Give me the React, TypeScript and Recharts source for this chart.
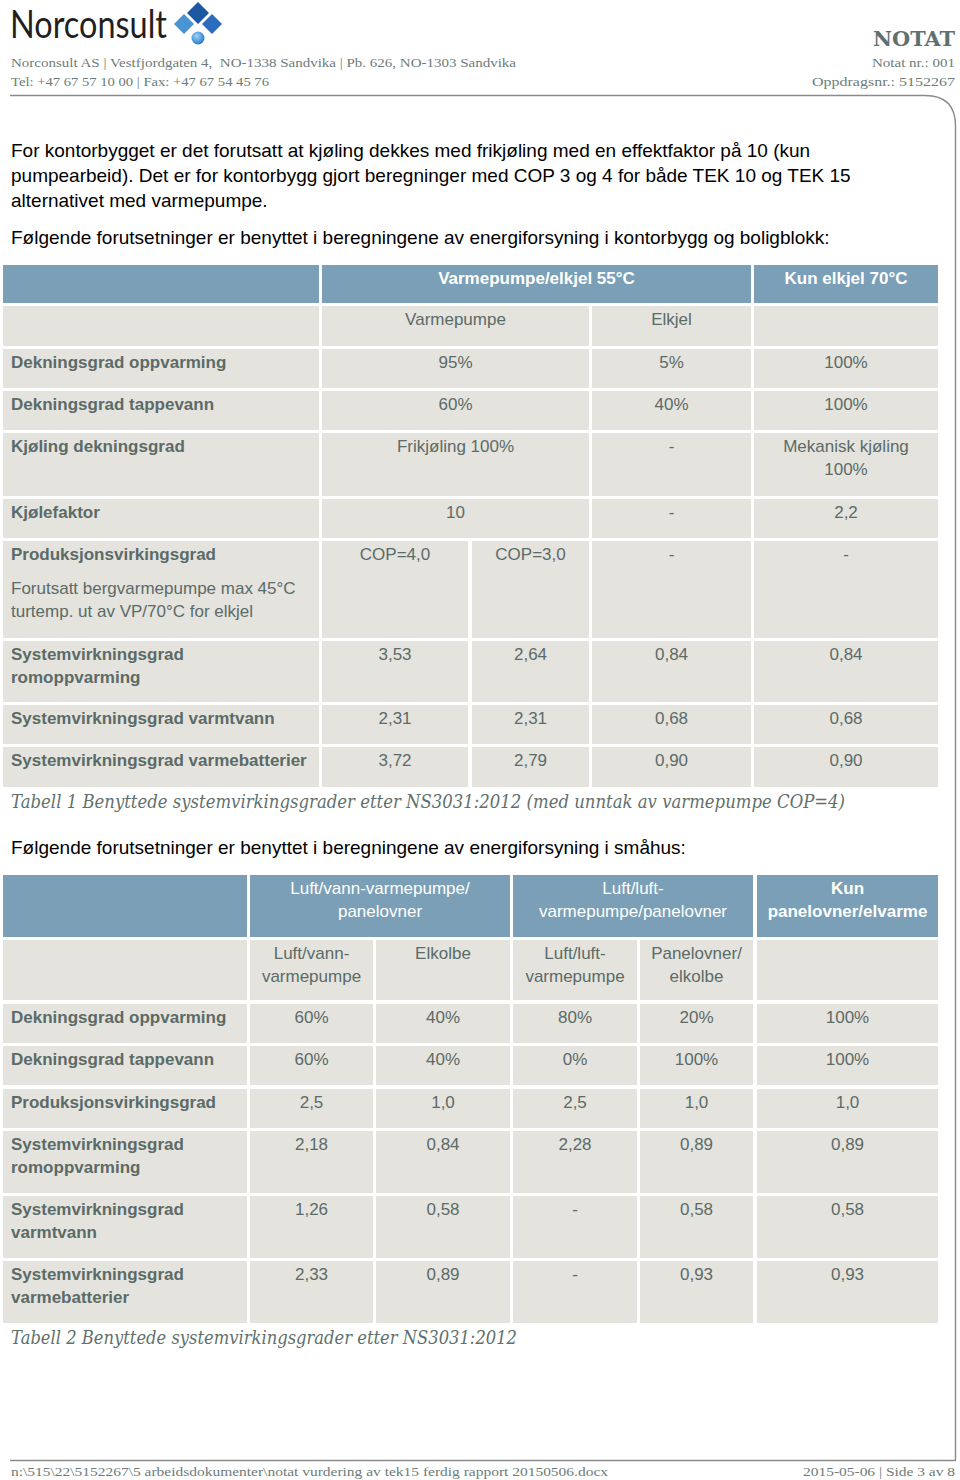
import React from "react";
import { Surface, Polygon, Dot } from "recharts";

// page text
const introLines = [
  "For kontorbygget er det forutsatt at kjøling dekkes med frikjøling med en effektfaktor på 10 (kun",
  "pumpearbeid). Det er for kontorbygg gjort beregninger med COP 3 og 4 for både TEK 10 og TEK 15",
  "alternativet med varmepumpe.",
];
const lead1 = "Følgende forutsetninger er benyttet i beregningene av energiforsyning i kontorbygg og boligblokk:";
const lead2 = "Følgende forutsetninger er benyttet i beregningene av energiforsyning i småhus:";
const caption1 = "Tabell 1 Benyttede systemvirkingsgrader etter NS3031:2012 (med unntak av varmepumpe COP=4)";
const caption2 = "Tabell 2 Benyttede systemvirkingsgrader etter NS3031:2012";

const headLeft = [
  "Norconsult AS | Vestfjordgaten 4,  NO-1338 Sandvika | Pb. 626, NO-1303 Sandvika",
  "Tel: +47 67 57 10 00 | Fax: +47 67 54 45 76",
];
const headRight = ["Notat nr.: 001", "Oppdragsnr.: 5152267"];
const footLeft = "n:\\515\\22\\5152267\\5 arbeidsdokumenter\\notat vurdering av tek15 ferdig rapport 20150506.docx";
const footRight = "2015-05-06 | Side 3 av 8";

// table 1 (span = number of columns, lines split by "\n")
type Cell = { t: string; span?: number; bold?: boolean; note?: string; left?: boolean };

const t1Header: Cell[] = [
  { t: "" },
  { t: "Varmepumpe/elkjel 55°C", span: 3, bold: true },
  { t: "Kun elkjel 70°C", bold: true },
];
const t1Sub: Cell[] = [{ t: "" }, { t: "Varmepumpe", span: 2 }, { t: "Elkjel" }, { t: "" }];
const t1Labels = [
  "Dekningsgrad oppvarming",
  "Dekningsgrad tappevann",
  "Kjøling dekningsgrad",
  "Kjølefaktor",
  "Produksjonsvirkingsgrad",
  "Systemvirkningsgrad\nromoppvarming",
  "Systemvirkningsgrad varmtvann",
  "Systemvirkningsgrad varmebatterier",
];
const t1Note = "Forutsatt bergvarmepumpe max 45°C\nturtemp. ut av VP/70°C for elkjel";
const t1Values: string[][] = [
  ["95%", "5%", "100%"],
  ["60%", "40%", "100%"],
  ["Frikjøling 100%", "-", "Mekanisk kjøling\n100%"],
  ["10", "-", "2,2"],
  ["COP=4,0", "COP=3,0", "-", "-"],
  ["3,53", "2,64", "0,84", "0,84"],
  ["2,31", "2,31", "0,68", "0,68"],
  ["3,72", "2,79", "0,90", "0,90"],
];

// table 2
const t2Header: Cell[] = [
  { t: "" },
  { t: "Luft/vann-varmepumpe/\npanelovner", span: 2 },
  { t: "Luft/luft-\nvarmepumpe/panelovner", span: 2 },
  { t: "Kun\npanelovner/elvarme", bold: true },
];
const t2Sub: Cell[] = [
  { t: "" },
  { t: "Luft/vann-\nvarmepumpe" },
  { t: "Elkolbe" },
  { t: "Luft/luft-\nvarmepumpe" },
  { t: "Panelovner/\nelkolbe" },
  { t: "" },
];
const t2Labels = [
  "Dekningsgrad oppvarming",
  "Dekningsgrad tappevann",
  "Produksjonsvirkingsgrad",
  "Systemvirkningsgrad\nromoppvarming",
  "Systemvirkningsgrad\nvarmtvann",
  "Systemvirkningsgrad\nvarmebatterier",
];
const t2Values: string[][] = [
  ["60%", "40%", "80%", "20%", "100%"],
  ["60%", "40%", "0%", "100%", "100%"],
  ["2,5", "1,0", "2,5", "1,0", "1,0"],
  ["2,18", "0,84", "2,28", "0,89", "0,89"],
  ["1,26", "0,58", "-", "0,58", "0,58"],
  ["2,33", "0,89", "-", "0,93", "0,93"],
];

// layout
const BLUE = "#7a9fb6";
const GREY = "#e5e3dd";
const INK = "#5b6b68";
const SLAB = "'DejaVu Serif', serif";
const SERIF = "'Liberation Serif', serif";
const SANS = "'Liberation Sans', Arial, sans-serif";

const t1ColStart = [3, 322, 472, 592, 754];
const t1ColEnd = [319, 468, 589, 751, 938];
const t1RowTop = [265, 306, 349, 391, 433, 499, 541, 641, 705, 747];
const t1RowBot = [303, 346, 388, 430, 496, 538, 638, 702, 744, 787];

const t2ColStart = [3, 250, 376, 513, 640, 757];
const t2ColEnd = [247, 373, 510, 637, 753, 938];
const t2RowTop = [875, 940, 1004, 1046, 1089, 1131, 1196, 1261];
const t2RowBot = [937, 1000, 1043, 1085, 1128, 1193, 1258, 1323];

function Lines({ text }: { text: string }) {
  return (
    <>
      {text.split("\n").map((l, i) => (
        <div key={i}>{l || "\u00a0"}</div>
      ))}
    </>
  );
}

function TableRow({
  cells,
  starts,
  ends,
  top,
  bottom,
  header,
}: {
  cells: Cell[];
  starts: number[];
  ends: number[];
  top: number;
  bottom: number;
  header?: boolean;
}) {
  let col = 0;
  return (
    <>
      {cells.map((c, i) => {
        const span = c.span || 1;
        const x0 = starts[col];
        const x1 = ends[col + span - 1];
        col += span;
        return (
          <div
            key={i}
            style={{
              position: "absolute",
              left: x0,
              top,
              width: x1 - x0,
              height: bottom - top,
              background: header ? BLUE : GREY,
              color: header ? "#ffffff" : INK,
              fontFamily: SANS,
              fontSize: 17,
              lineHeight: "23px",
              fontWeight: c.bold ? 700 : 400,
              textAlign: c.left ? "left" : "center",
              paddingTop: 2,
              paddingLeft: c.left ? 8 : 0,
              boxSizing: "border-box",
              whiteSpace: "nowrap",
            }}
          >
            <Lines text={c.t} />
            {c.note && (
              <div style={{ fontWeight: 400, marginTop: 11 }}>
                <Lines text={c.note} />
              </div>
            )}
          </div>
        );
      })}
    </>
  );
}

function bodyRows(labels: string[], values: string[][], nCols: number, note?: { row: number; text: string }) {
  return labels.map((label, r) => {
    const vals = values[r];
    const first = nCols - vals.length + 1; // span of first value cell
    const cells: Cell[] = [
      { t: label, bold: true, left: true, note: note && note.row === r ? note.text : undefined },
      ...vals.map((v, i) => ({ t: v, span: i === 0 ? first : 1 })),
    ];
    return cells;
  });
}

function SvgText({
  x,
  y,
  text,
  len,
  size,
  family,
  color,
  weight,
  italic,
}: {
  x: number;
  y: number;
  text: string;
  len?: number;
  size: number;
  family: string;
  color: string;
  weight?: number;
  italic?: boolean;
}) {
  return (
    <text
      x={x}
      y={y}
      fontSize={size}
      fontFamily={family}
      fill={color}
      fontWeight={weight || 400}
      fontStyle={italic ? "italic" : "normal"}
      textLength={len}
      lengthAdjust={len ? "spacingAndGlyphs" : undefined}
      style={{ whiteSpace: "pre" }}
    >
      {text}
    </text>
  );
}

export default function App() {
  const t1Body = bodyRows(t1Labels, t1Values, 4, { row: 4, text: t1Note });
  const t2Body = bodyRows(t2Labels, t2Values, 5);
  const t1All = [t1Header, t1Sub, ...t1Body];
  const t2All = [t2Header, t2Sub, ...t2Body];

  return (
    <div style={{ position: "absolute", left: 0, top: 0, width: 960, height: 1480, background: "#fff", overflow: "hidden" }}>
      {t1All.map((cells, r) => (
        <TableRow key={"a" + r} cells={cells} starts={t1ColStart} ends={t1ColEnd} top={t1RowTop[r]} bottom={t1RowBot[r]} header={r === 0} />
      ))}
      {t2All.map((cells, r) => (
        <TableRow key={"b" + r} cells={cells} starts={t2ColStart} ends={t2ColEnd} top={t2RowTop[r]} bottom={t2RowBot[r]} header={r === 0} />
      ))}

      <div style={{ position: "absolute", left: 0, top: 0, pointerEvents: "none" }}>
        <Surface width={960} height={1480}>
          <defs>
            <radialGradient id="ball" cx="40%" cy="35%" r="70%">
              <stop offset="0%" stopColor="#9fd4f7" />
              <stop offset="100%" stopColor="#1e74c6" />
            </radialGradient>
          </defs>

          {/* logo */}
          <SvgText x={10} y={38} text="Norconsult" len={157} size={39} family="Lato, 'Open Sans', sans-serif" color="#231f20" />
          <Polygon points={[{ x: 198, y: 2 }, { x: 209, y: 13 }, { x: 198, y: 24 }, { x: 187, y: 13 }]} fill="#1c57a3" />
          <Polygon points={[{ x: 184, y: 14 }, { x: 194, y: 24 }, { x: 184, y: 34 }, { x: 174, y: 24 }]} fill="#4a93d4" />
          <Polygon points={[{ x: 212, y: 14 }, { x: 222, y: 24 }, { x: 212, y: 34 }, { x: 202, y: 24 }]} fill="#2c6cbd" />
          <Dot cx={198} cy={38} r={6.5} fill="url(#ball)" />

          {/* letterhead */}
          <SvgText x={11} y={67} text={headLeft[0]} len={505} size={13.5} family={SERIF} color="#6d7c7a" />
          <SvgText x={11} y={86} text={headLeft[1]} len={258} size={13.5} family={SERIF} color="#6d7c7a" />
          <SvgText x={873} y={46} text="NOTAT" len={82} size={21} family={SLAB} weight={700} color="#5f716f" />
          <SvgText x={872} y={67} text={headRight[0]} len={83} size={13.5} family={SERIF} color="#6d7c7a" />
          <SvgText x={812} y={86} text={headRight[1]} len={143} size={13.5} family={SERIF} color="#6d7c7a" />

          {/* page frame */}
          <path d="M10 95.5 H925 Q955.5 95.5 955.5 126 V1460" fill="none" stroke="#8a8a8a" strokeWidth={1.4} />
          <path d="M10 1460.5 H956" fill="none" stroke="#8a8a8a" strokeWidth={1.4} />

          {/* body text */}
          {introLines.map((l, i) => (
            <SvgText key={i} x={11} y={157 + i * 25} text={l} size={19} family={SANS} color="#000" />
          ))}
          <SvgText x={11} y={244} text={lead1} size={19} family={SANS} color="#000" />
          <SvgText x={11} y={854} text={lead2} size={19} family={SANS} color="#000" />

          {/* captions */}
          <SvgText x={11} y={808} text={caption1} len={834} size={18} family={SLAB} italic color="#5f706d" />
          <SvgText x={11} y={1344} text={caption2} len={506} size={18} family={SLAB} italic color="#5f706d" />

          {/* footer */}
          <SvgText x={11} y={1476} text={footLeft} len={597} size={13.5} family={SERIF} color="#6d7c7a" />
          <SvgText x={803} y={1476} text={footRight} len={152} size={13.5} family={SERIF} color="#6d7c7a" />
        </Surface>
      </div>
    </div>
  );
}
